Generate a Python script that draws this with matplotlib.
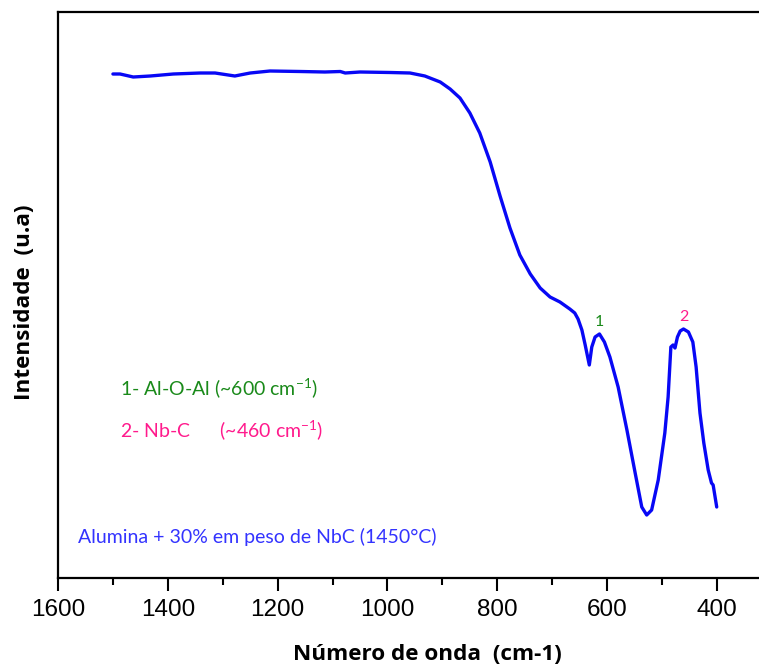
import matplotlib
matplotlib.use("Agg")
import matplotlib.pyplot as plt
from matplotlib.ticker import MultipleLocator

plt.rcParams["font.family"] = ["Liberation Sans", "DejaVu Sans"]
plt.rcParams["mathtext.fontset"] = "custom"
plt.rcParams["mathtext.rm"] = "Lato"

# FTIR spectrum: wavenumber (cm-1) and intensity (arbitrary units)
wavenumber = [1500, 1487, 1463, 1432, 1390, 1341, 1314, 1278, 1250, 1214, 1159,
              1114, 1086, 1077, 1050, 995, 959, 932, 904, 886, 868, 850, 832,
              813, 795, 777, 759, 740, 722, 704, 686, 668, 659, 653, 646, 640,
              632.5, 628, 622, 614, 605, 595, 580, 564, 549, 537, 528, 519, 507,
              495, 489, 484, 480, 476.5, 472, 467, 461, 452, 444, 438, 431, 424,
              416, 410, 407, 400.5]
intensity = [504, 504, 501, 502, 504, 505, 505, 502, 505, 507, 506.5,
             506, 506.5, 505, 506, 505.5, 505, 502, 496, 489, 480, 465, 445,
             416, 382, 350, 323, 304, 290, 281, 276, 269, 265, 259, 248, 233,
             213, 231, 241, 244, 236, 221, 191, 148, 105, 71, 63, 68, 98,
             145, 181, 231, 233, 230, 241, 247, 249, 246, 236, 211, 165, 135,
             108, 95, 93, 71]

band_labels = ["1", "2"]
band_positions = [614, 461]
band_colors = ["#1a8a1a", "#ff1a8c"]
legend_lines = [r"1- Al-O-Al (~600 cm$^{\mathrm{-1}}$)",
                r"2- Nb-C      (~460 cm$^{\mathrm{-1}}$)"]
sample_text = "Alumina + 30% em peso de NbC (1450°C)"

fig = plt.figure(figsize=(7.59, 6.67), dpi=100)
ax = fig.add_axes([58 / 759, 1 - 578 / 667, 1 - 58 / 759, (578 - 12) / 667])

ax.plot(wavenumber, intensity, color="#0808f5", lw=2.4, solid_capstyle="round",
        solid_joinstyle="round")

ax.set_xlim(1600, 323.5)
ax.set_ylim(0, 566)

ax.xaxis.set_major_locator(MultipleLocator(200))
ax.xaxis.set_minor_locator(MultipleLocator(100))
ax.tick_params(axis="x", which="major", direction="out", length=9, width=1.5,
               labelsize=17.5, pad=6)
ax.tick_params(axis="x", which="minor", direction="out", length=5, width=1.5)
ax.set_yticks([])

for side in ("left", "bottom", "top"):
    ax.spines[side].set_linewidth(1.6)
ax.spines["right"].set_visible(False)

# band markers above the peaks
for lab, pos, col in zip(band_labels, band_positions, band_colors):
    y = intensity[wavenumber.index(pos)]
    ax.text(pos, y + 5, lab, color=col, ha="center", va="bottom",
            fontsize=11.5, family="Lato")

ax.text(0.088, 0.335, legend_lines[0], transform=ax.transAxes, color=band_colors[0],
        fontsize=14, family="Lato", va="center")
ax.text(0.088, 0.26, legend_lines[1], transform=ax.transAxes, color=band_colors[1],
        fontsize=14, family="Lato", va="center")
ax.text(0.028, 0.072, sample_text, transform=ax.transAxes, color="#3333ff",
        fontsize=14, family="Lato", va="center")

fig.text(427 / 759, 1 - 655 / 667, "Número de onda  (cm-1)", ha="center", va="center",
         fontsize=16.2, fontweight="bold", family="Open Sans")
fig.text(25 / 759, 1 - 302 / 667, "Intensidade  (u.a)", ha="center", va="center",
         rotation=90, fontsize=16.2, fontweight="bold", family="Open Sans")

fig.savefig("out.png", dpi=100)
